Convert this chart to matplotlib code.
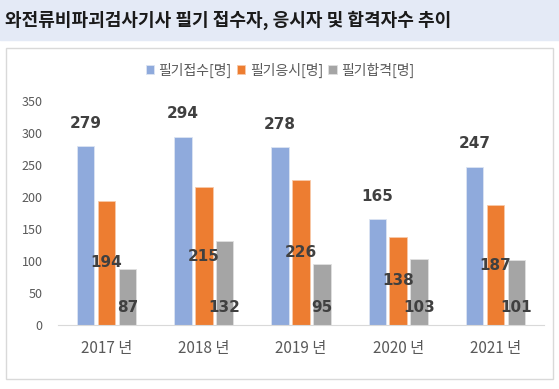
import matplotlib
matplotlib.use("Agg")
import matplotlib.pyplot as plt
from matplotlib.patches import Rectangle
import numpy as np

plt.rcParams['font.family'] = ['Noto Sans CJK KR', 'DejaVu Sans']

# ─── data ───
years = ["2017 년", "2018 년", "2019 년", "2020 년", "2021 년"]
applied = [279, 294, 278, 165, 247]   # 필기접수
took = [194, 215, 226, 138, 187]      # 필기응시
passed = [87, 132, 95, 103, 101]      # 필기합격
series_names = ["필기접수[명]", "필기응시[명]", "필기합격[명]"]
colors = ["#8FAADC", "#ED7D31", "#A5A5A5"]

W, H = 559, 389
fig = plt.figure(figsize=(W / 100, H / 100), dpi=100)

# title band
fig.patches.append(Rectangle((0, (H - 40) / H), 1, 40 / H, transform=fig.transFigure,
                             color="#E4EAF6", zorder=-2))
fig.text(5 / W, 1 - 20 / H, "와전류비파괴검사기사 필기 접수자, 응시자 및 합격자수 추이",
         fontsize=13, fontweight="bold", color="#1a1a1a", va="center", ha="left")

# chart frame
fig.patches.append(Rectangle((6 / W, (H - 379) / H), 547 / W, 331 / H, transform=fig.transFigure,
                             facecolor="white", edgecolor="#D9D9D9", linewidth=1, zorder=-2))

ax = fig.add_axes([58 / W, (H - 325) / H, 486 / W, 224 / H])
ax.set_facecolor("none")

x = np.arange(len(years))
w = 0.18
off = 0.215
b1 = ax.bar(x - off, applied, w, color=colors[0], edgecolor="#DCE4F2", linewidth=0.6, label=series_names[0])
b2 = ax.bar(x, took, w, color=colors[1], edgecolor="#F8C9A9", linewidth=0.6, label=series_names[1])
b3 = ax.bar(x + off, passed, w, color=colors[2], edgecolor="#E0E0E0", linewidth=0.6, label=series_names[2])

lab = dict(fontsize=11, fontweight="bold", color="#404040", ha="center", va="center",
           family="DejaVu Sans")
for xi, v in zip(x - off, applied):
    ax.annotate(str(v), (xi, v), xytext=(0, 23), textcoords="offset pixels", **lab)
for xi, v in zip(x, took):
    ax.annotate(str(v), (xi, v / 2), **lab)
for xi, v in zip(x + off, passed):
    ax.annotate(str(v), (xi, 0), xytext=(0, 17), textcoords="offset pixels", **lab)

ax.set_xlim(-0.5, 4.5)
ax.set_ylim(0, 350)
ax.set_yticks(range(0, 351, 50))
ax.set_xticks(x)
ax.set_xticklabels(years, fontsize=11, color="#595959")
ax.tick_params(axis="y", labelsize=9, colors="#595959", length=0, pad=11)
ax.tick_params(axis="x", length=0, pad=11)
for s in ["top", "right", "left"]:
    ax.spines[s].set_visible(False)
ax.spines["bottom"].set_color("#D9D9D9")

fig.legend(handles=[b1, b2, b3], loc="center", bbox_to_anchor=(280 / W, 1 - 70 / H),
           ncol=3, frameon=False, fontsize=10, labelcolor="#595959",
           handlelength=0.6, handleheight=0.6, handletextpad=0.3, columnspacing=0.4)

fig.savefig("out.png", dpi=100)
